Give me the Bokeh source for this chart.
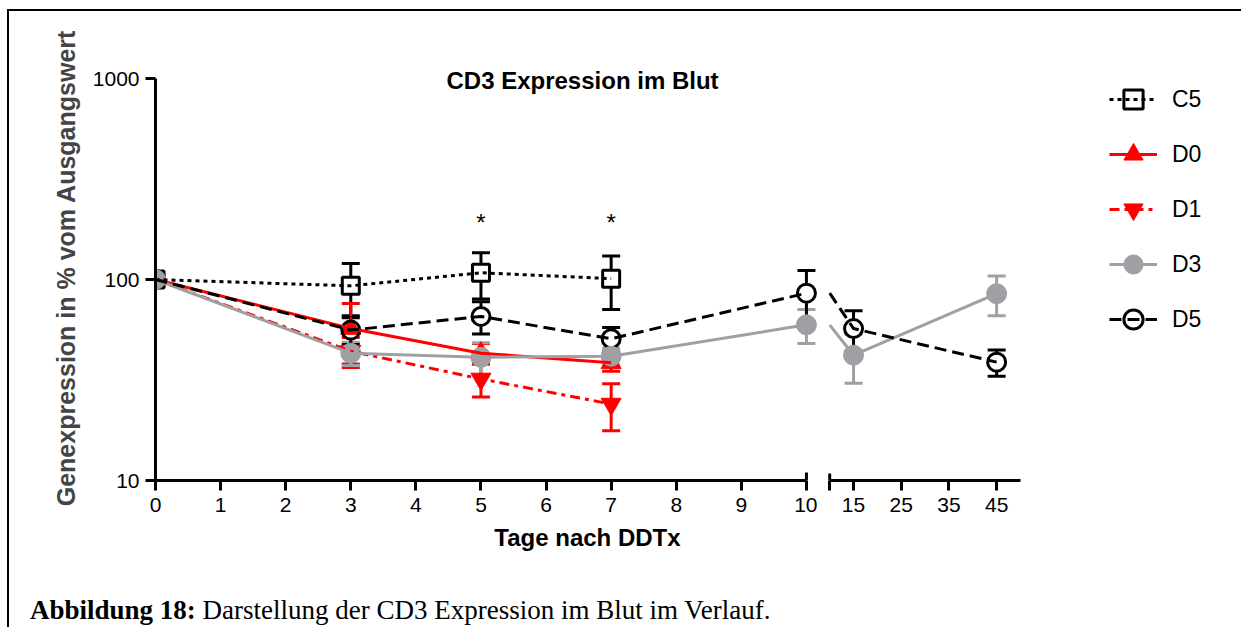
import numpy as np
from bokeh.plotting import figure
from bokeh.layouts import row, column
from bokeh.models import (Range1d, FixedTicker, NumeralTickFormatter, CustomJSTickFormatter,
                          Legend, LegendItem, Label, Div)
from bokeh.core.properties import value
from bokeh.embed import file_html
from bokeh.resources import INLINE

nan = float("nan")

# ---------------- data ----------------
days = [0, 3, 5, 7, 10, 15, 45]
c5_mean = [100, 93, 108, 101, nan, nan, nan]
c5_err = [0, 27, 28, 30, nan, nan, nan]
d0_mean = [100, 57, 43, 38.5, nan, nan, nan]
d0_err = [0, 19, 5, 3.5, nan, nan, nan]
d1_mean = [100, 44, 32, 24, nan, nan, nan]
d1_err = [0, 7.5, 6, 6.3, nan, nan, nan]
d3_mean = [100, 43, 41, 41.5, 59.5, 42, 85]
d3_err = [0, 5.7, 7.5, 4, 11.5, 11.5, 19]
d5_mean = [100, 56, 65.5, 50.7, 85.5, 57, 38.8]
d5_err = [0, 8.5, 12, 7, 25.5, 13, 5.8]

star_days = [5, 7]
star_vals = [208, 208]
star_text = ["*", "*"]

left_ticks = [0, 1, 2, 3, 4, 5, 6, 7, 8, 9, 10]
right_ticks = [10, 15, 25, 35, 45]
y_ticks = [10, 100, 1000]

title_text = "CD3 Expression im Blut"
x_label = "Tage nach DDTx"
y_label = "Genexpression in % vom Ausgangswert"
caption_bold = "Abbildung 18:"
caption_text = "Darstellung der CD3 Expression im Blut im Verlauf."

# ---------------- styles ----------------
FONT = "Liberation Sans"
GRAY = "#A0A0A4"
RED = "#FF0000"
series = [
    dict(name="C5", mean=c5_mean, err=c5_err, color="black", dash="4 4"),
    dict(name="D0", mean=d0_mean, err=d0_err, color=RED, dash="solid"),
    dict(name="D1", mean=d1_mean, err=d1_err, color=RED, dash="10 5 4 5"),
    dict(name="D3", mean=d3_mean, err=d3_err, color=GRAY, dash="solid"),
    dict(name="D5", mean=d5_mean, err=d5_err, color="black", dash="12 6"),
]

FRAME_H = 425
PX_PER_DECADE = 201.0
y_top = 10 ** (1 + FRAME_H / PX_PER_DECADE)
yr = Range1d(10, y_top)


def style_axes(p):
    p.grid.visible = False
    p.outline_line_color = None
    for ax in p.axis:
        ax.axis_line_width = 3
        ax.axis_line_color = "black"
        ax.major_tick_line_width = 3
        ax.major_tick_line_color = "black"
        ax.major_tick_out = 10
        ax.major_tick_in = 0
        ax.minor_tick_line_color = None
        ax.major_label_text_font = FONT
        ax.major_label_text_font_size = "21px"
        ax.major_label_text_color = "black"
        ax.major_label_standoff = 7


def draw(p, pts_sel, line_sel):
    d = np.array(days, dtype=float)
    renders = {}
    for s in series:
        m = np.array(s["mean"], dtype=float)
        e = np.array(s["err"], dtype=float)
        k = pts_sel(d) & ~np.isnan(m) & (e > 0)
        if k.any():
            p.segment(x0=d[k], y0=m[k] - e[k], x1=d[k], y1=m[k] + e[k], line_color=s["color"], line_width=3)
            p.scatter(x=np.concatenate([d[k], d[k]]), y=np.concatenate([m[k] - e[k], m[k] + e[k]]),
                      marker="dash", size=18, line_color=s["color"], line_width=3)
    S = {s["name"]: s for s in series}

    def pts(name):
        m = np.array(S[name]["mean"], dtype=float)
        k = pts_sel(d) & ~np.isnan(m)
        return d[k], m[k]

    x, y = pts("C5")
    renders["C5m"] = p.scatter(x=x, y=y, marker="square", size=17, fill_color="white", line_color="black", line_width=3)
    x, y = pts("D5")
    p.scatter(x=x, y=y, marker="circle", size=20, fill_color="white", line_color=None)
    x, y = pts("D0")
    renders["D0m"] = p.scatter(x=x, y=y, marker="triangle", size=20, fill_color=RED, line_color=RED, line_width=1)
    x, y = pts("D1")
    renders["D1m"] = p.scatter(x=x, y=y, marker="inverted_triangle", size=20, fill_color=RED, line_color=RED, line_width=1)
    x, y = pts("D5")
    renders["D5m"] = p.scatter(x=x, y=y, marker="circle", size=18, fill_color=None, line_color="black", line_width=3)
    x, y = pts("D3")
    renders["D3m"] = p.scatter(x=x, y=y, marker="circle", size=20, fill_color=GRAY, line_color=GRAY, line_width=1)
    for s in series:
        m = np.array(s["mean"], dtype=float)
        k = line_sel(d) & ~np.isnan(m)
        if k.sum() < 2:
            # series without points in this panel: full series (outside this panel's x range)
            k = ~np.isnan(m)
        renders[s["name"] + "l"] = p.line(x=d[k], y=m[k], line_color=s["color"], line_width=3,
                                          line_dash=s["dash"])
    return renders


# ---------------- left segment ----------------
pL = figure(frame_width=662, frame_height=FRAME_H, x_range=Range1d(0, 10.17), y_range=yr,
            y_axis_type="log", min_border_left=146, min_border_right=0, min_border_top=44,
            min_border_bottom=40, output_backend="svg", toolbar_location=None,
            background_fill_color="white", border_fill_color="white")
style_axes(pL)
pL.xaxis.ticker = FixedTicker(ticks=left_ticks)
pL.xaxis.bounds = (0, 10)
pL.yaxis.ticker = FixedTicker(ticks=y_ticks)
pL.yaxis.formatter = NumeralTickFormatter(format="0")
pL.yaxis.bounds = (10, 1000)
pL.yaxis.axis_label = y_label
pL.yaxis.axis_label_text_font = FONT
pL.yaxis.axis_label_text_font_style = "bold"
pL.yaxis.axis_label_text_font_size = "25px"
pL.yaxis.axis_label_standoff = 10
pL.yaxis.major_label_standoff = 6

rL = draw(pL, lambda d: d <= 10, lambda d: d <= 10)

# inward part of the break mark at 10
pL.segment(x0=[10], y0=[10], x1=[10], y1=[10 * 10 ** (8 / PX_PER_DECADE)], line_color="black", line_width=3)

pL.text(x=star_days, y=star_vals, text=star_text, text_font=value(FONT), text_font_size="24px",
        text_align="center", text_baseline="middle", y_offset=7, text_color="black")

pL.add_layout(Label(x=6.56, y=10 ** (1 + 400 / PX_PER_DECADE), text=title_text, text_align="center",
                    text_baseline="middle", text_font=FONT, text_font_style="bold", text_font_size="24px",
                    text_color="black"))

# ---------------- right segment (frame extends under the legend) ----------------
pR = figure(frame_width=415, frame_height=FRAME_H, x_range=Range1d(9.33, 9.33 + 415 / 4.77), y_range=yr,
            y_axis_type="log", y_axis_location=None, min_border_left=9, min_border_right=0,
            min_border_top=44, min_border_bottom=40, output_backend="svg", toolbar_location=None,
            background_fill_color="white", border_fill_color="white")
style_axes(pR)
pR.xaxis.ticker = FixedTicker(ticks=right_ticks)
pR.xaxis.bounds = (10, 50)
pR.xaxis.formatter = CustomJSTickFormatter(code="return tick == 10 ? '' : tick.toFixed(0);")

# every series is drawn in the right panel too; days before 10 fall outside its x range (clipped),
# the day-10 markers belong to the left panel only
rR = draw(pR, lambda d: d != 10, lambda d: d >= 10)
pR.segment(x0=[10], y0=[10], x1=[10], y1=[10 * 10 ** (7 / PX_PER_DECADE)], line_color="black", line_width=3)

items = [LegendItem(label=nm, renderers=[rR[nm + "m"], rR[nm + "l"]]) for nm in ["C5", "D0", "D1", "D3", "D5"]]
legend = Legend(items=items, location=(283, 136), glyph_width=48, glyph_height=50, spacing=5,
                padding=0, margin=0, label_standoff=15, label_text_font=FONT,
                label_text_font_size="23px", label_text_color="black",
                border_line_color=None, background_fill_alpha=0)
pR.add_layout(legend)

xlab = Div(text=x_label, width=865, height=36, margin=(0, 0, 0, 146),
           styles={"font-family": "'Liberation Sans', sans-serif", "font-size": "24px", "font-weight": "bold",
                   "color": "black", "text-align": "center", "line-height": "36px", "white-space": "nowrap"})

cap = Div(text="<b>" + caption_bold + "</b> " + caption_text, width=1000, height=34,
          margin=(37, 0, 0, 21),
          styles={"font-family": "'Liberation Serif', serif", "font-size": "27px", "color": "black",
                  "line-height": "34px", "white-space": "nowrap"})

lay = column(row(pL, pR), xlab, cap, margin=(9, 0, 0, 7),
             styles={"border-left": "2px solid black", "border-top": "2px solid black"})

with open("out.html", "w") as f:
    f.write(file_html(lay, INLINE))
